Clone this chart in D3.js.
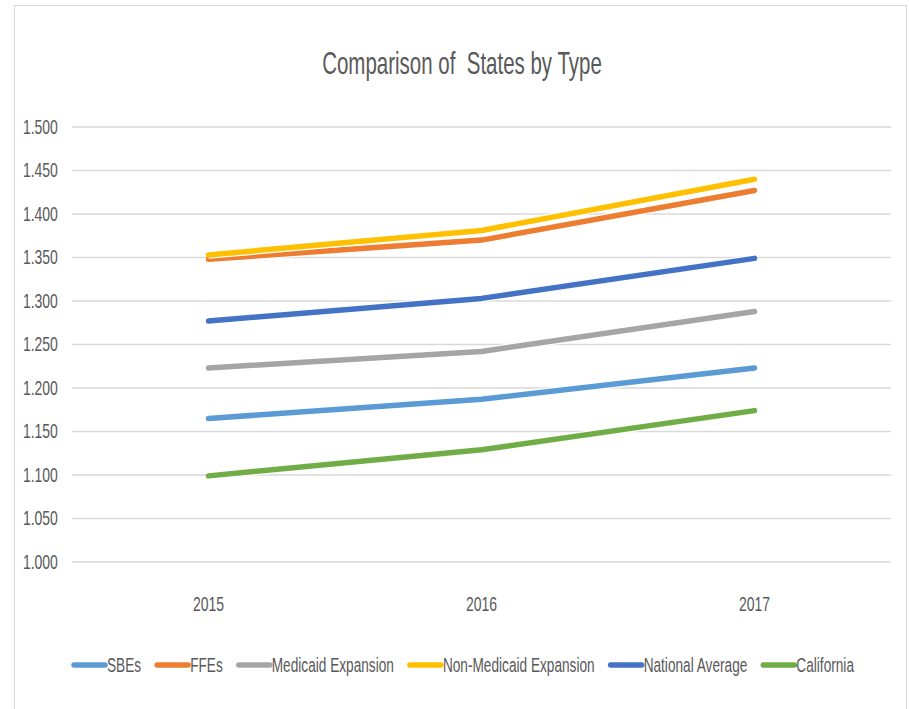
<!DOCTYPE html>
<html>
<head>
<meta charset="utf-8">
<script src="https://cdn.jsdelivr.net/npm/d3@7"></script>
<style>
  body { margin: 0; background: #fff; }
  text { font-family: "Liberation Sans", Arial, sans-serif; fill: #595959; white-space: pre; }
</style>
</head>
<body>
<div class="canvas"></div>
<script>
// data
var years = ["2015", "2016", "2017"];
var sbes = [1.165, 1.187, 1.223];
var ffes = [1.348, 1.370, 1.427];
var medicaid = [1.223, 1.242, 1.288];
var nonMedicaid = [1.353, 1.381, 1.440];
var national = [1.277, 1.303, 1.349];
var california = [1.099, 1.129, 1.174];
var yTicks = [1.0, 1.05, 1.1, 1.15, 1.2, 1.25, 1.3, 1.35, 1.4, 1.45, 1.5];

var series = [
  { name: "SBEs", values: sbes, color: "#5B9BD5" },
  { name: "FFEs", values: ffes, color: "#ED7D31" },
  { name: "Medicaid Expansion", values: medicaid, color: "#A5A5A5" },
  { name: "Non-Medicaid Expansion", values: nonMedicaid, color: "#FFC000" },
  { name: "National Average", values: national, color: "#4472C4" },
  { name: "California", values: california, color: "#70AD47" }
];

// the source font is a narrow one, squeeze text horizontally
var squeeze = 0.7;

var svg = d3.select(".canvas")
  .append("svg")
  .attr("width", 909)
  .attr("height", 709);

// chart frame
svg.append("rect")
  .attr("x", 14.5).attr("y", 5.5)
  .attr("width", 892).attr("height", 720)
  .attr("fill", "#fff")
  .attr("stroke", "#d9d9d9");

var x = d3.scaleBand().domain(years).range([72, 891]);
var y = d3.scaleLinear().domain([1.0, 1.5]).range([562, 127]);

// title
svg.append("g")
  .attr("transform", "translate(462,74)")
  .append("text")
  .attr("text-anchor", "middle")
  .attr("transform", "scale(0.64,1)")
  .style("font-size", "32px")
  .text("Comparison of  States by Type");

// gridlines
svg.append("g")
  .selectAll("line")
  .data(yTicks)
  .enter().append("line")
  .attr("x1", 72).attr("x2", 891)
  .attr("y1", function(d){ return y(d); })
  .attr("y2", function(d){ return y(d); })
  .attr("stroke", "#d9d9d9")
  .attr("stroke-width", 1.5);

// y axis
var yAxis = svg.append("g")
  .attr("transform", "translate(60,0)")
  .call(d3.axisLeft(y).tickValues(yTicks).tickFormat(d3.format(".3f")).tickSize(0));
yAxis.select(".domain").remove();
yAxis.selectAll("text")
  .style("font-size", "20px")
  .attr("fill", "#595959")
  .attr("transform", "scale(" + squeeze + ",1)");

// x axis
var xAxis = svg.append("g")
  .attr("transform", "translate(0,594)")
  .call(d3.axisBottom(x).tickSize(0));
xAxis.select(".domain").remove();
xAxis.selectAll("text")
  .style("font-size", "20px")
  .attr("fill", "#595959")
  .attr("transform", "scale(" + squeeze + ",1)");

// lines
var line = d3.line()
  .x(function(d, i){ return x(years[i]) + x.bandwidth() / 2; })
  .y(function(d){ return y(d); });

series.forEach(function(s){
  svg.append("path")
    .attr("d", line(s.values))
    .attr("fill", "none")
    .attr("stroke", "#fff")
    .attr("stroke-width", 8)
    .attr("stroke-linejoin", "round");
  svg.append("path")
    .attr("d", line(s.values))
    .attr("fill", "none")
    .attr("stroke", s.color)
    .attr("stroke-width", 5.5)
    .attr("stroke-linejoin", "round")
    .attr("stroke-linecap", "round");
});

// legend
var gap = 16;
var legend = svg.append("g");
var lx = 0;
series.forEach(function(s){
  var item = legend.append("g").attr("transform", "translate(" + lx + ",0)");
  item.append("line")
    .attr("x1", 0).attr("x2", 31)
    .attr("y1", 0).attr("y2", 0)
    .attr("stroke", s.color)
    .attr("stroke-width", 5.5)
    .attr("stroke-linecap", "round");
  var t = item.append("g").attr("transform", "translate(33,7)")
    .append("text")
    .attr("transform", "scale(" + squeeze + ",1)")
    .style("font-size", "19.5px")
    .text(s.name);
  lx += 33 + t.node().getComputedTextLength() * squeeze + gap;
});
var legendWidth = lx - gap;
legend.attr("transform", "translate(" + (464 - legendWidth / 2) + ",665)");
</script>
</body>
</html>
